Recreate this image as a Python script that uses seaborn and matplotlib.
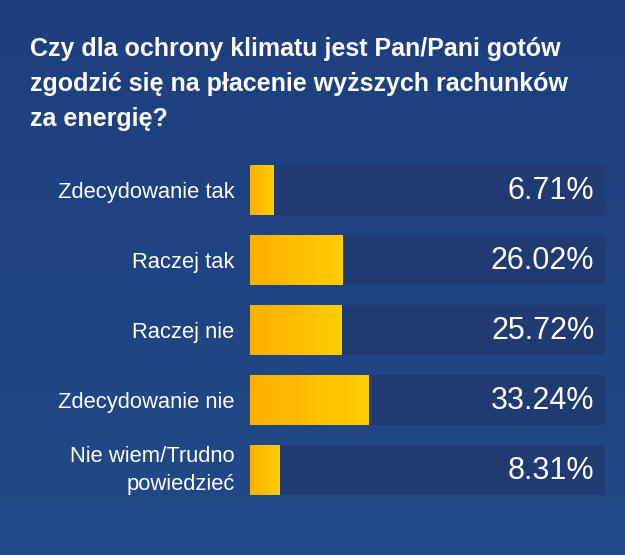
import numpy as np
import pandas as pd
import matplotlib.pyplot as plt
import matplotlib.colors as mcolors
import matplotlib.transforms as mtransforms
import seaborn as sns

# Survey answers and shares (%)
answers = ['Zdecydowanie tak', 'Raczej tak', 'Raczej nie',
           'Zdecydowanie nie', 'Nie wiem/Trudno\npowiedzieć']
shares = [6.71, 26.02, 25.72, 33.24, 8.31]
title = ('Czy dla ochrony klimatu jest Pan/Pani gotów\n'
         'zgodzić się na płacenie wyższych rachunków\n'
         'za energię?')

BG_TOP = '#1d3f7e'
BG_BOTTOM = '#224989'
TRACK = '#1f3b72'
BAR_LEFT = '#ffb000'
BAR_RIGHT = '#ffcd00'


def plot_chart():
    df = pd.DataFrame({'answer': answers, 'share': shares})
    df['full'] = 100.0

    sns.set_theme(style='white')
    plt.rcParams['font.family'] = ['Liberation Sans', 'DejaVu Sans']

    fig = plt.figure(figsize=(6.25, 5.55), dpi=100)

    # Background gradient over the whole figure
    bg_ax = fig.add_axes([0, 0, 1, 1], zorder=-10)
    bg_cmap = mcolors.LinearSegmentedColormap.from_list('bg', [BG_TOP, BG_BOTTOM])
    bg_ax.imshow(np.linspace(0, 1, 256).reshape(-1, 1), aspect='auto',
                 cmap=bg_cmap, extent=[0, 1, 0, 1], origin='upper')
    bg_ax.axis('off')

    ax = fig.add_axes([250 / 625, 50 / 555, 355 / 625, 350 / 555])
    ax.patch.set_alpha(0)

    # Dark tracks (0-100%)
    sns.barplot(data=df, x='full', y='answer', color=TRACK, width=50 / 70,
                saturation=1, linewidth=0, ax=ax, zorder=1)
    n_track = len(ax.patches)
    # Value bars
    sns.barplot(data=df, x='share', y='answer', color=BAR_RIGHT, width=50 / 70,
                saturation=1, linewidth=0, ax=ax, zorder=2)

    bar_cmap = mcolors.LinearSegmentedColormap.from_list('bar', [BAR_LEFT, BAR_RIGHT])
    grad = np.linspace(0, 1, 128).reshape(1, -1)
    for p in ax.patches[n_track:]:
        x0, y0 = p.get_x(), p.get_y()
        w, h = p.get_width(), p.get_height()
        img = ax.imshow(grad, aspect='auto', cmap=bar_cmap,
                        extent=[x0, x0 + w, y0 + h, y0], zorder=3)
        img.set_clip_path(p)

    ax.set_xlim(0, 100)
    ax.set_ylim(len(answers) - 0.5, -0.5)
    ax.set_xlabel('')
    ax.set_ylabel('')
    ax.set_xticks([])
    ax.tick_params(axis='y', length=0, pad=11)
    ax.set_yticks(range(len(answers)))
    labels = ax.set_yticklabels(answers, color='white', fontsize=15.8,
                                linespacing=1.4, ha='right')
    # two-line label sits a little higher in the original
    shift = mtransforms.ScaledTranslation(0, 5 / 100, fig.dpi_scale_trans)
    labels[-1].set_transform(labels[-1].get_transform() + shift)
    for s in ax.spines.values():
        s.set_visible(False)

    # Value labels at the right end of each track
    for i, v in enumerate(shares):
        ax.text(97, i + 0.02, f'{v:.2f}%', color='white', fontsize=22,
                ha='right', va='center', zorder=4)

    fig.text(30 / 625, 1 - 37 / 555, title, color='white', fontsize=18,
             fontweight='bold', ha='left', va='top', linespacing=1.57)

    fig.savefig('out.png', dpi=100)


if __name__ == '__main__':
    plot_chart()
